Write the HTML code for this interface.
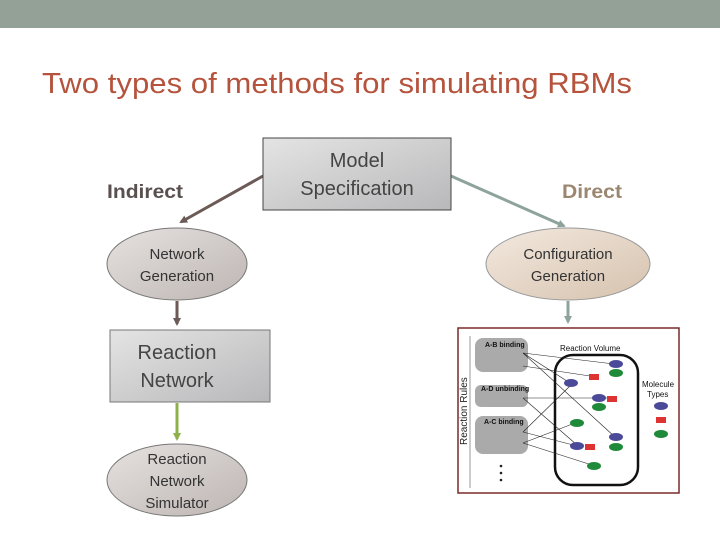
<!DOCTYPE html>
<html><head><style>
body{margin:0;width:720px;height:540px;background:#fff;overflow:hidden}
svg text{font-family:"Liberation Sans",sans-serif}
</style></head><body>
<svg width="720" height="540" viewBox="0 0 720 540" xmlns="http://www.w3.org/2000/svg">
<defs>
<linearGradient id="g1" x1="0" y1="0" x2="1" y2="1"><stop offset="0" stop-color="#e4e4e4"/><stop offset="1" stop-color="#b8b8ba"/></linearGradient>
<linearGradient id="g2" x1="0" y1="0" x2="1" y2="1"><stop offset="0" stop-color="#e6e2e0"/><stop offset="1" stop-color="#bdb5b2"/></linearGradient>
<linearGradient id="g3" x1="0" y1="0" x2="1" y2="1"><stop offset="0" stop-color="#f3e9df"/><stop offset="1" stop-color="#d6c2ae"/></linearGradient>
<marker id="ab" markerWidth="8" markerHeight="8" refX="6" refY="4" orient="auto" markerUnits="userSpaceOnUse"><path d="M0,0L8,4L0,8z" fill="#6b5a55"/></marker>
<marker id="ag" markerWidth="8" markerHeight="8" refX="6" refY="4" orient="auto" markerUnits="userSpaceOnUse"><path d="M0,0L8,4L0,8z" fill="#8fa39d"/></marker>
<marker id="agr" markerWidth="8" markerHeight="8" refX="6" refY="4" orient="auto" markerUnits="userSpaceOnUse"><path d="M0,0L8,4L0,8z" fill="#8db04a"/></marker>
</defs>
<rect x="0" y="0" width="720" height="28" fill="#93a197"/>
<text x="42" y="93" font-size="29" fill="#b5533c" textLength="590" lengthAdjust="spacingAndGlyphs">Two types of methods for simulating RBMs</text>

<line x1="263" y1="176" x2="181" y2="222" stroke="#6b5a55" stroke-width="3" marker-end="url(#ab)"/>
<line x1="451" y1="176" x2="564" y2="226" stroke="#8fa39d" stroke-width="3" marker-end="url(#ag)"/>
<rect x="263" y="138" width="188" height="72" fill="url(#g1)" stroke="#444" stroke-width="1"/>
<text x="357" y="167" font-size="20" fill="#444" text-anchor="middle">Model</text>
<text x="357" y="195" font-size="20" fill="#444" text-anchor="middle">Specification</text>

<text x="145" y="198" font-size="19" fill="#5b5050" text-anchor="middle" font-weight="bold" textLength="76" lengthAdjust="spacingAndGlyphs">Indirect</text>
<text x="592" y="198" font-size="19" fill="#9b8770" text-anchor="middle" font-weight="bold" textLength="60" lengthAdjust="spacingAndGlyphs">Direct</text>

<ellipse cx="177" cy="264" rx="70" ry="36" fill="url(#g2)" stroke="#777" stroke-width="1"/>
<text x="177" y="259" font-size="15" fill="#333" text-anchor="middle">Network</text>
<text x="177" y="281" font-size="15" fill="#333" text-anchor="middle">Generation</text>
<ellipse cx="568" cy="264" rx="82" ry="36" fill="url(#g3)" stroke="#999" stroke-width="1"/>
<text x="568" y="259" font-size="15" fill="#333" text-anchor="middle">Configuration</text>
<text x="568" y="281" font-size="15" fill="#333" text-anchor="middle">Generation</text>

<line x1="177" y1="301" x2="177" y2="324" stroke="#6b5a55" stroke-width="3" marker-end="url(#ab)"/>
<rect x="110" y="330" width="160" height="72" fill="url(#g1)" stroke="#777" stroke-width="1"/>
<text x="177" y="359" font-size="20" fill="#444" text-anchor="middle">Reaction</text>
<text x="177" y="387" font-size="20" fill="#444" text-anchor="middle">Network</text>
<line x1="177" y1="403" x2="177" y2="439" stroke="#8db04a" stroke-width="3" marker-end="url(#agr)"/>
<ellipse cx="177" cy="480" rx="70" ry="36" fill="url(#g2)" stroke="#777" stroke-width="1"/>
<text x="177" y="464" font-size="15" fill="#333" text-anchor="middle">Reaction</text>
<text x="177" y="486" font-size="15" fill="#333" text-anchor="middle">Network</text>
<text x="177" y="508" font-size="15" fill="#333" text-anchor="middle">Simulator</text>

<line x1="568" y1="301" x2="568" y2="322" stroke="#8fa39d" stroke-width="3" marker-end="url(#ag)"/>
<rect x="458" y="328" width="221" height="165" fill="#fff" stroke="#7a2a2a" stroke-width="1.5"/>
<line x1="470" y1="336" x2="470" y2="488" stroke="#999" stroke-width="1"/>
<text transform="translate(467,445) rotate(-90)" font-size="10" fill="#222">Reaction Rules</text>
<rect x="475" y="338" width="53" height="34" rx="8" fill="#aaa"/>
<rect x="475" y="385" width="53" height="22" rx="6" fill="#aaa"/>
<rect x="475" y="416" width="53" height="38" rx="8" fill="#aaa"/>
<text x="485" y="347" font-size="7" font-weight="bold" fill="#111">A-B binding</text>
<text x="480" y="410" font-size="0" fill="#111"></text>
<text x="481" y="391" font-size="7" font-weight="bold" fill="#111">A-D unbinding</text>
<text x="484" y="424" font-size="7" font-weight="bold" fill="#111">A-C binding</text>
<text x="560" y="351" font-size="8" fill="#111">Reaction Volume</text>
<text x="642" y="387" font-size="8" fill="#111">Molecule</text>
<text x="647" y="397" font-size="8" fill="#111">Types</text>
<rect x="555" y="355" width="83" height="130" rx="18" fill="#fff" stroke="#111" stroke-width="2.5"/>
<g stroke="#222" stroke-width="0.6">
<line x1="523" y1="353" x2="614" y2="364"/><line x1="523" y1="353" x2="570" y2="383"/><line x1="523" y1="353" x2="615" y2="437"/>
<line x1="523" y1="366" x2="590" y2="376"/><line x1="523" y1="398" x2="607" y2="398"/><line x1="523" y1="398" x2="577" y2="445"/>
<line x1="523" y1="432" x2="571" y2="385"/><line x1="523" y1="432" x2="577" y2="446"/><line x1="523" y1="443" x2="575" y2="423"/><line x1="523" y1="443" x2="592" y2="465"/>
</g>
<g fill="#4a4a99"><ellipse cx="616" cy="364" rx="7" ry="4"/><ellipse cx="571" cy="383" rx="7" ry="4"/><ellipse cx="599" cy="398" rx="7" ry="4"/><ellipse cx="616" cy="437" rx="7" ry="4"/><ellipse cx="577" cy="446" rx="7" ry="4"/><ellipse cx="661" cy="406" rx="7" ry="4"/></g>
<g fill="#1f8a3a"><ellipse cx="616" cy="373" rx="7" ry="4"/><ellipse cx="599" cy="407" rx="7" ry="4"/><ellipse cx="577" cy="423" rx="7" ry="4"/><ellipse cx="616" cy="447" rx="7" ry="4"/><ellipse cx="594" cy="466" rx="7" ry="4"/><ellipse cx="661" cy="434" rx="7" ry="4"/></g>
<g fill="#d33"><rect x="589" y="374" width="10" height="6"/><rect x="607" y="396" width="10" height="6"/><rect x="585" y="444" width="10" height="6"/><rect x="656" y="417" width="10" height="6"/></g>
<g fill="#222"><circle cx="501" cy="466" r="1.3"/><circle cx="501" cy="473" r="1.3"/><circle cx="501" cy="480" r="1.3"/></g>
</svg>
</body></html>
